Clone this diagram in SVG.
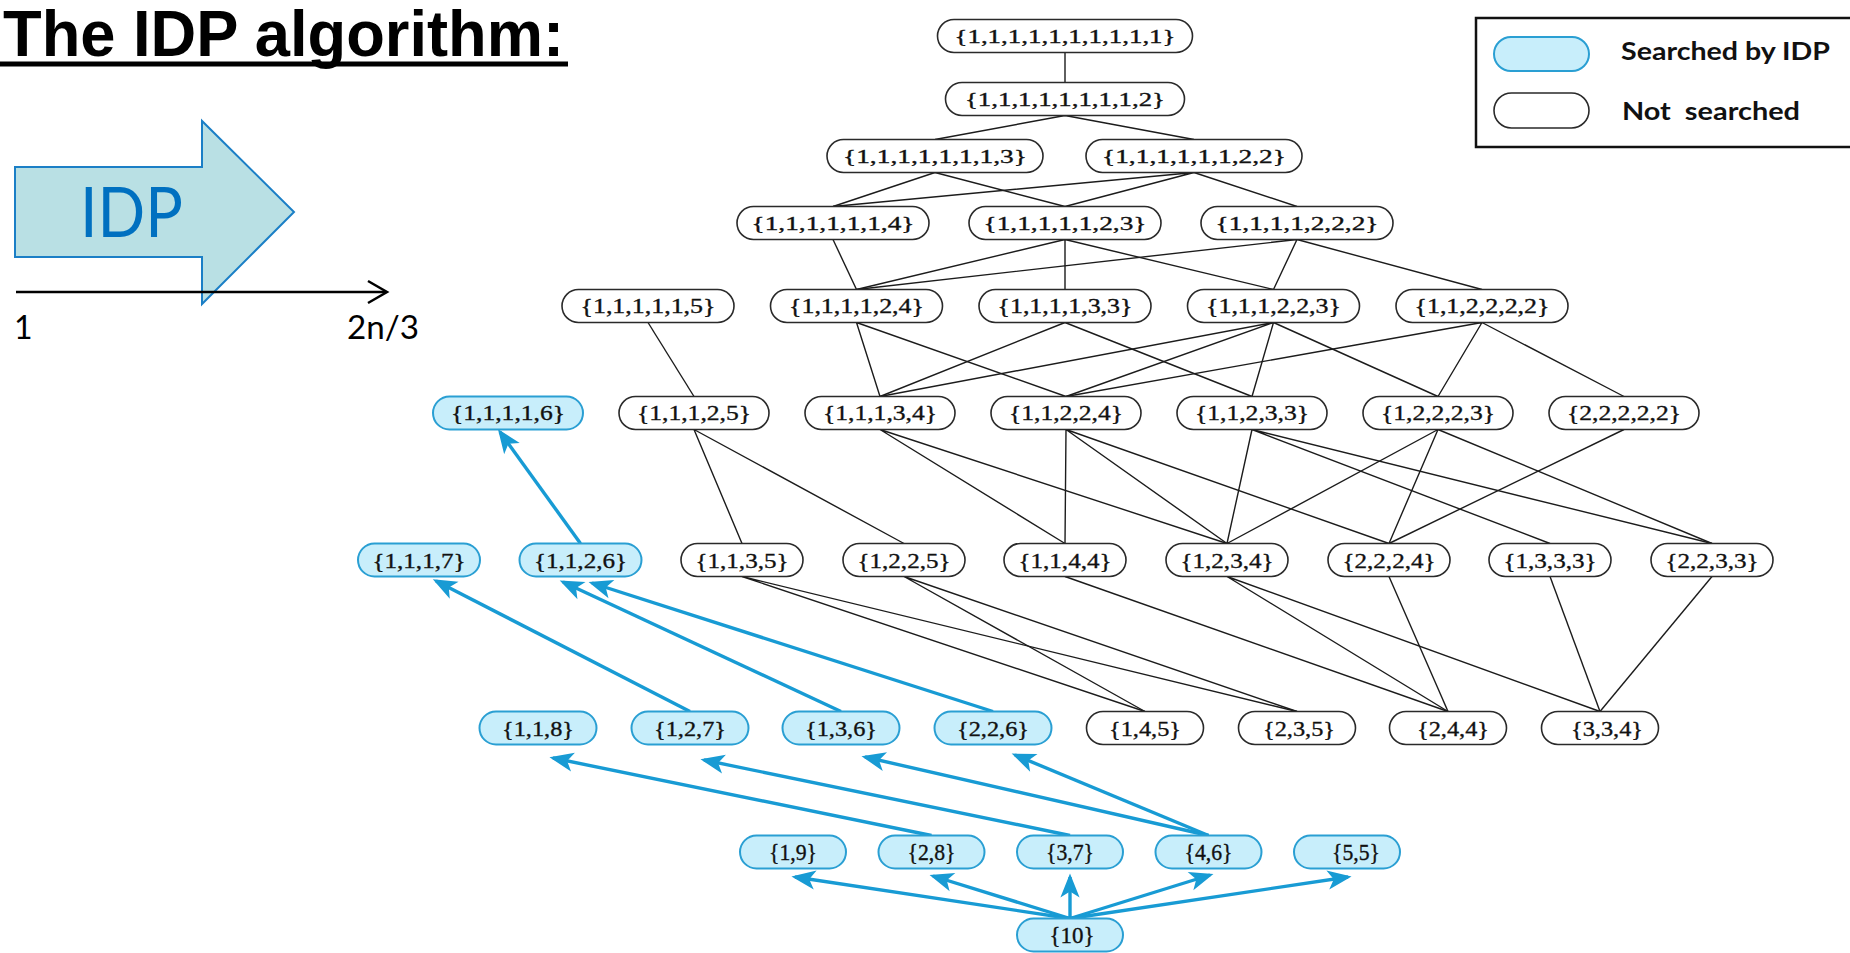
<svg xmlns="http://www.w3.org/2000/svg" width="1850" height="953" viewBox="0 0 1850 953">
  <style>
    .edge { stroke: #1c1c1c; stroke-width: 1.4; fill: none; }
    .arrow { stroke: #189bd4; stroke-width: 3.4; fill: none; marker-end: url(#ah); }
    .node rect { fill: #ffffff; stroke: #2a2a2a; stroke-width: 1.6; }
    .node.s rect { fill: #c8eefb; stroke: #2a9fd3; stroke-width: 2; }
    .lbl { font-family: "Liberation Serif", "DejaVu Serif", serif; fill: #111; stroke: #111; stroke-width: 0.35; text-anchor: middle; }
    .r1 { font-size: 19px; } .r2 { font-size: 19.5px; } .r3 { font-size: 19.5px; } .r4 { font-size: 19.5px; }
    .r5 { font-size: 20.5px; } .r6 { font-size: 21px; } .r7 { font-size: 21.5px; } .r8 { font-size: 22px; }
    .r9 { font-size: 22.5px; }
    .sans { font-family: Lato, "Open Sans", "Liberation Sans", sans-serif; }
  </style>
  <defs>
    <marker id="ah" markerUnits="userSpaceOnUse" markerWidth="30" markerHeight="30" viewBox="-20 -10 25 20" refX="0" refY="0" orient="auto">
      <path d="M3,0 L-17,-8 L-12,0 L-17,8 Z" fill="#189bd4"/>
    </marker>
  </defs>
  <rect width="1850" height="953" fill="#ffffff"/>

  <!-- heading -->
  <g id="title">
    <text x="3" y="56" font-family="Liberation Sans, Arial, sans-serif" font-weight="bold" font-size="64" textLength="561" lengthAdjust="spacingAndGlyphs" fill="#000">The IDP algorithm:</text>
    <rect x="0" y="61.5" width="568" height="5" fill="#000"/>
  </g>

  <!-- IDP progress arrow and axis -->
  <g id="idp-banner">
    <polygon points="15,167 202,167 202,121 294,212 202,304 202,257 15,257" fill="#b9e0e4" stroke="#1b7fc6" stroke-width="2"/>
    <text class="sans" x="80" y="237" font-size="69" textLength="103" lengthAdjust="spacingAndGlyphs" fill="#0070c0">IDP</text>
  </g>
  <g id="axis">
    <line x1="16" y1="292" x2="386" y2="292" stroke="#000" stroke-width="2.5"/>
    <polyline points="368,281 387,292 368,303" fill="none" stroke="#000" stroke-width="2.5"/>
    <text class="sans" x="14" y="339" font-size="32" fill="#000">1</text>
    <text class="sans" x="347" y="339" font-size="32" textLength="72" lengthAdjust="spacingAndGlyphs" fill="#000">2n/3</text>
  </g>

  <!-- legend -->
  <g id="legend">
    <rect x="1476" y="18" width="400" height="129" fill="#fff" stroke="#111" stroke-width="2.5"/>
    <rect x="1494" y="37" width="95" height="34" rx="17" fill="#c8eefb" stroke="#2a9fd3" stroke-width="2"/>
    <rect x="1494" y="93" width="95" height="35" rx="17.5" fill="#fff" stroke="#2a2a2a" stroke-width="1.6"/>
    <text class="sans" x="1621" y="60" font-size="24" font-weight="bold" textLength="209" lengthAdjust="spacingAndGlyphs" fill="#111">Searched by IDP</text>
    <text class="sans" x="1622" y="120" font-size="24" font-weight="bold" textLength="178" lengthAdjust="spacingAndGlyphs" fill="#111" xml:space="preserve">Not  searched</text>
  </g>

  <!-- connectors -->
  <g id="connectors">
    <g id="lattice-edges" class="edge">
      <path d="M1065,52.5 L1065,82.5"/>
      <path d="M1065,115.5 L935,139.5 M1065,115.5 L1194,139.5"/>
      <path d="M935,172.5 L833,206.5 M935,172.5 L1065,206.5"/>
      <path d="M1194,172.5 L833,206.5 M1194,172.5 L1065,206.5 M1194,172.5 L1297,206.5"/>
      <path d="M833,239.5 L856.5,289.5"/>
      <path d="M1065,239.5 L856.5,289.5 M1065,239.5 L1065,289.5 M1065,239.5 L1273.5,289.5"/>
      <path d="M1297,239.5 L856.5,289.5 M1297,239.5 L1273.5,289.5 M1297,239.5 L1482,289.5"/>
      <path d="M648,322.5 L694,396.5"/>
      <path d="M856.5,322.5 L880,396.5 M856.5,322.5 L1066,396.5"/>
      <path d="M1065,322.5 L880,396.5 M1065,322.5 L1252,396.5"/>
      <path d="M1273.5,322.5 L880,396.5 M1273.5,322.5 L1066,396.5 M1273.5,322.5 L1252,396.5 M1273.5,322.5 L1438,396.5"/>
      <path d="M1482,322.5 L1066,396.5 M1482,322.5 L1438,396.5 M1482,322.5 L1624,396.5"/>
      <path d="M694,429.5 L742,543.5 M694,429.5 L904,543.5"/>
      <path d="M880,429.5 L1065,543.5 M880,429.5 L1227,543.5"/>
      <path d="M1066,429.5 L1065,543.5 M1066,429.5 L1227,543.5 M1066,429.5 L1389,543.5"/>
      <path d="M1252,429.5 L1227,543.5 M1252,429.5 L1550,543.5 M1252,429.5 L1712,543.5"/>
      <path d="M1438,429.5 L1227,543.5 M1438,429.5 L1389,543.5 M1438,429.5 L1712,543.5"/>
      <path d="M1624,429.5 L1389,543.5"/>
      <path d="M742,576.5 L1145,711.5 M742,576.5 L1297,711.5"/>
      <path d="M904,576.5 L1145,711.5 M904,576.5 L1297,711.5"/>
      <path d="M1065,576.5 L1448,711.5"/>
      <path d="M1227,576.5 L1448,711.5 M1227,576.5 L1600,711.5"/>
      <path d="M1389,576.5 L1448,711.5"/>
      <path d="M1550,576.5 L1600,711.5"/>
      <path d="M1712,576.5 L1600,711.5"/>
    </g>
    <g id="idp-arrows">
      <line class="arrow" x1="580.5" y1="543.5" x2="500" y2="432"/>
      <line class="arrow" x1="690" y1="711.5" x2="436" y2="581"/>
      <line class="arrow" x1="841" y1="711.5" x2="563" y2="582"/>
      <line class="arrow" x1="993" y1="711.5" x2="592" y2="583"/>
      <line class="arrow" x1="931.5" y1="835.5" x2="553" y2="758"/>
      <line class="arrow" x1="1070" y1="835.5" x2="704" y2="760"/>
      <line class="arrow" x1="1208.5" y1="835.5" x2="865" y2="757"/>
      <line class="arrow" x1="1208.5" y1="835.5" x2="1015" y2="755"/>
      <line class="arrow" x1="1070" y1="918.5" x2="795" y2="877"/>
      <line class="arrow" x1="1070" y1="918.5" x2="933" y2="876"/>
      <line class="arrow" x1="1070" y1="918.5" x2="1070" y2="877"/>
      <line class="arrow" x1="1070" y1="918.5" x2="1210" y2="875"/>
      <line class="arrow" x1="1070" y1="918.5" x2="1348" y2="877"/>
    </g>
  </g>

  <!-- row 1 -->
  <g id="p1111111111" class="node"><rect x="937.5" y="19.5" width="255" height="33" rx="16.5"/><text class="lbl r1" x="1065" y="42.5" textLength="221" lengthAdjust="spacingAndGlyphs">{1,1,1,1,1,1,1,1,1,1}</text></g>
  <!-- row 2 -->
  <g id="p111111112" class="node"><rect x="945.5" y="82.5" width="239" height="33" rx="16.5"/><text class="lbl r2" x="1065" y="105.8" textLength="200" lengthAdjust="spacingAndGlyphs">{1,1,1,1,1,1,1,1,2}</text></g>
  <!-- row 3 -->
  <g id="p11111113" class="node"><rect x="827" y="139.5" width="216" height="33" rx="16.5"/><text class="lbl r3" x="935" y="162.8" textLength="184" lengthAdjust="spacingAndGlyphs">{1,1,1,1,1,1,1,3}</text></g>
  <g id="p11111122" class="node"><rect x="1086" y="139.5" width="216" height="33" rx="16.5"/><text class="lbl r3" x="1194" y="162.8" textLength="184" lengthAdjust="spacingAndGlyphs">{1,1,1,1,1,1,2,2}</text></g>
  <!-- row 4 -->
  <g id="p1111114" class="node"><rect x="737" y="206.5" width="192" height="33" rx="16.5"/><text class="lbl r4" x="833" y="229.8" textLength="163" lengthAdjust="spacingAndGlyphs">{1,1,1,1,1,1,4}</text></g>
  <g id="p1111123" class="node"><rect x="969" y="206.5" width="192" height="33" rx="16.5"/><text class="lbl r4" x="1065" y="229.8" textLength="163" lengthAdjust="spacingAndGlyphs">{1,1,1,1,1,2,3}</text></g>
  <g id="p1111222" class="node"><rect x="1201" y="206.5" width="192" height="33" rx="16.5"/><text class="lbl r4" x="1297" y="229.8" textLength="163" lengthAdjust="spacingAndGlyphs">{1,1,1,1,2,2,2}</text></g>
  <!-- row 5 -->
  <g id="p111115" class="node"><rect x="562" y="289.5" width="172" height="33" rx="16.5"/><text class="lbl r5" x="648" y="313.2" textLength="135" lengthAdjust="spacingAndGlyphs">{1,1,1,1,1,5}</text></g>
  <g id="p111124" class="node"><rect x="770.5" y="289.5" width="172" height="33" rx="16.5"/><text class="lbl r5" x="856.5" y="313.2" textLength="135" lengthAdjust="spacingAndGlyphs">{1,1,1,1,2,4}</text></g>
  <g id="p111133" class="node"><rect x="979" y="289.5" width="172" height="33" rx="16.5"/><text class="lbl r5" x="1065" y="313.2" textLength="135" lengthAdjust="spacingAndGlyphs">{1,1,1,1,3,3}</text></g>
  <g id="p111223" class="node"><rect x="1187.5" y="289.5" width="172" height="33" rx="16.5"/><text class="lbl r5" x="1273.5" y="313.2" textLength="135" lengthAdjust="spacingAndGlyphs">{1,1,1,2,2,3}</text></g>
  <g id="p112222" class="node"><rect x="1396" y="289.5" width="172" height="33" rx="16.5"/><text class="lbl r5" x="1482" y="313.2" textLength="135" lengthAdjust="spacingAndGlyphs">{1,1,2,2,2,2}</text></g>
  <!-- row 6 -->
  <g id="p11116" class="node s"><rect x="433" y="396.5" width="150" height="33" rx="16.5"/><text class="lbl r6" x="508" y="420.4" textLength="114" lengthAdjust="spacingAndGlyphs">{1,1,1,1,6}</text></g>
  <g id="p11125" class="node"><rect x="619" y="396.5" width="150" height="33" rx="16.5"/><text class="lbl r6" x="694" y="420.4" textLength="114" lengthAdjust="spacingAndGlyphs">{1,1,1,2,5}</text></g>
  <g id="p11134" class="node"><rect x="805" y="396.5" width="150" height="33" rx="16.5"/><text class="lbl r6" x="880" y="420.4" textLength="114" lengthAdjust="spacingAndGlyphs">{1,1,1,3,4}</text></g>
  <g id="p11224" class="node"><rect x="991" y="396.5" width="150" height="33" rx="16.5"/><text class="lbl r6" x="1066" y="420.4" textLength="114" lengthAdjust="spacingAndGlyphs">{1,1,2,2,4}</text></g>
  <g id="p11233" class="node"><rect x="1177" y="396.5" width="150" height="33" rx="16.5"/><text class="lbl r6" x="1252" y="420.4" textLength="114" lengthAdjust="spacingAndGlyphs">{1,1,2,3,3}</text></g>
  <g id="p12223" class="node"><rect x="1363" y="396.5" width="150" height="33" rx="16.5"/><text class="lbl r6" x="1438" y="420.4" textLength="114" lengthAdjust="spacingAndGlyphs">{1,2,2,2,3}</text></g>
  <g id="p22222" class="node"><rect x="1549" y="396.5" width="150" height="33" rx="16.5"/><text class="lbl r6" x="1624" y="420.4" textLength="114" lengthAdjust="spacingAndGlyphs">{2,2,2,2,2}</text></g>
  <!-- row 7 -->
  <g id="p1117" class="node s"><rect x="358" y="543.5" width="122" height="33" rx="16.5"/><text class="lbl r7" x="419" y="567.6" textLength="93" lengthAdjust="spacingAndGlyphs">{1,1,1,7}</text></g>
  <g id="p1126" class="node s"><rect x="519.5" y="543.5" width="122" height="33" rx="16.5"/><text class="lbl r7" x="580.5" y="567.6" textLength="93" lengthAdjust="spacingAndGlyphs">{1,1,2,6}</text></g>
  <g id="p1135" class="node"><rect x="681" y="543.5" width="122" height="33" rx="16.5"/><text class="lbl r7" x="742" y="567.6" textLength="93" lengthAdjust="spacingAndGlyphs">{1,1,3,5}</text></g>
  <g id="p1225" class="node"><rect x="843" y="543.5" width="122" height="33" rx="16.5"/><text class="lbl r7" x="904" y="567.6" textLength="93" lengthAdjust="spacingAndGlyphs">{1,2,2,5}</text></g>
  <g id="p1144" class="node"><rect x="1004" y="543.5" width="122" height="33" rx="16.5"/><text class="lbl r7" x="1065" y="567.6" textLength="93" lengthAdjust="spacingAndGlyphs">{1,1,4,4}</text></g>
  <g id="p1234" class="node"><rect x="1166" y="543.5" width="122" height="33" rx="16.5"/><text class="lbl r7" x="1227" y="567.6" textLength="93" lengthAdjust="spacingAndGlyphs">{1,2,3,4}</text></g>
  <g id="p2224" class="node"><rect x="1328" y="543.5" width="122" height="33" rx="16.5"/><text class="lbl r7" x="1389" y="567.6" textLength="93" lengthAdjust="spacingAndGlyphs">{2,2,2,4}</text></g>
  <g id="p1333" class="node"><rect x="1489" y="543.5" width="122" height="33" rx="16.5"/><text class="lbl r7" x="1550" y="567.6" textLength="93" lengthAdjust="spacingAndGlyphs">{1,3,3,3}</text></g>
  <g id="p2233" class="node"><rect x="1651" y="543.5" width="122" height="33" rx="16.5"/><text class="lbl r7" x="1712" y="567.6" textLength="93" lengthAdjust="spacingAndGlyphs">{2,2,3,3}</text></g>
  <!-- row 8 -->
  <g id="p118" class="node s"><rect x="479.5" y="711.5" width="117" height="33" rx="16.5"/><text class="lbl r8" x="538" y="735.7" textLength="72" lengthAdjust="spacingAndGlyphs">{1,1,8}</text></g>
  <g id="p127" class="node s"><rect x="631.5" y="711.5" width="117" height="33" rx="16.5"/><text class="lbl r8" x="690" y="735.7" textLength="72" lengthAdjust="spacingAndGlyphs">{1,2,7}</text></g>
  <g id="p136" class="node s"><rect x="782.5" y="711.5" width="117" height="33" rx="16.5"/><text class="lbl r8" x="841" y="735.7" textLength="72" lengthAdjust="spacingAndGlyphs">{1,3,6}</text></g>
  <g id="p226" class="node s"><rect x="934.5" y="711.5" width="117" height="33" rx="16.5"/><text class="lbl r8" x="993" y="735.7" textLength="72" lengthAdjust="spacingAndGlyphs">{2,2,6}</text></g>
  <g id="p145" class="node"><rect x="1086.5" y="711.5" width="117" height="33" rx="16.5"/><text class="lbl r8" x="1145" y="735.7" textLength="72" lengthAdjust="spacingAndGlyphs">{1,4,5}</text></g>
  <g id="p235" class="node"><rect x="1238.5" y="711.5" width="117" height="33" rx="16.5"/><text class="lbl r8" x="1299" y="735.7" textLength="72" lengthAdjust="spacingAndGlyphs">{2,3,5}</text></g>
  <g id="p244" class="node"><rect x="1389.5" y="711.5" width="117" height="33" rx="16.5"/><text class="lbl r8" x="1453" y="735.7" textLength="72" lengthAdjust="spacingAndGlyphs">{2,4,4}</text></g>
  <g id="p334" class="node"><rect x="1541.5" y="711.5" width="117" height="33" rx="16.5"/><text class="lbl r8" x="1607" y="735.7" textLength="72" lengthAdjust="spacingAndGlyphs">{3,3,4}</text></g>
  <!-- row 9 -->
  <g id="p19" class="node s"><rect x="740" y="835.5" width="106" height="33" rx="16.5"/><text class="lbl r9" x="793" y="860" textLength="48" lengthAdjust="spacingAndGlyphs">{1,9}</text></g>
  <g id="p28" class="node s"><rect x="878.5" y="835.5" width="106" height="33" rx="16.5"/><text class="lbl r9" x="931.5" y="860" textLength="48" lengthAdjust="spacingAndGlyphs">{2,8}</text></g>
  <g id="p37" class="node s"><rect x="1017" y="835.5" width="106" height="33" rx="16.5"/><text class="lbl r9" x="1070" y="860" textLength="48" lengthAdjust="spacingAndGlyphs">{3,7}</text></g>
  <g id="p46" class="node s"><rect x="1155.5" y="835.5" width="106" height="33" rx="16.5"/><text class="lbl r9" x="1208.5" y="860" textLength="48" lengthAdjust="spacingAndGlyphs">{4,6}</text></g>
  <g id="p55" class="node s"><rect x="1294" y="835.5" width="106" height="33" rx="16.5"/><text class="lbl r9" x="1356" y="860" textLength="48" lengthAdjust="spacingAndGlyphs">{5,5}</text></g>
  <!-- row 10 -->
  <g id="p10" class="node s"><rect x="1017" y="918.5" width="106" height="33" rx="16.5"/><text class="lbl r9" x="1072" y="943" textLength="45" lengthAdjust="spacingAndGlyphs">{10}</text></g>
</svg>
